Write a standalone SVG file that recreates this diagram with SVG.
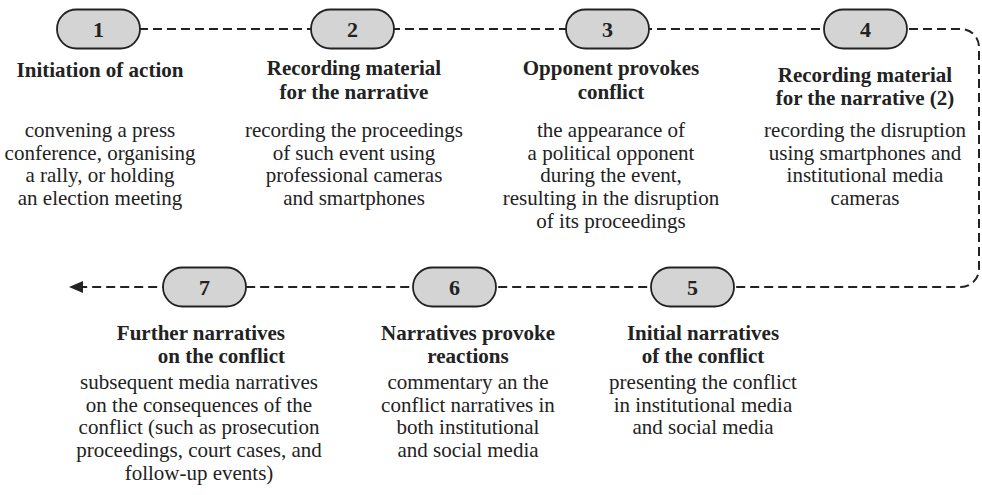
<svg xmlns="http://www.w3.org/2000/svg" width="982" height="495" viewBox="0 0 982 495">
<defs>
<style>
.pill{fill:#d4d4d4;stroke:#222;stroke-width:1.8}
.num{font-family:"Liberation Serif",serif;font-weight:bold;font-size:22px;fill:#222;text-anchor:middle}
.hd{font-family:"Liberation Serif",serif;font-weight:bold;font-size:21px;fill:#222;text-anchor:middle}
.bd{font-family:"Liberation Serif",serif;font-size:21px;fill:#222;text-anchor:middle}
.conn{fill:none;stroke:#222;stroke-width:2;stroke-dasharray:9 5}
</style>
<marker id="arr" viewBox="0 0 14 12" refX="1" refY="6" markerWidth="14" markerHeight="12" markerUnits="userSpaceOnUse" orient="auto">
<path d="M14,6 L0,0 L0,12 Z" fill="#222"/>
</marker>
</defs>
<rect width="982" height="495" fill="#fff"/>
<g id="connectors">
<path class="conn" d="M139 29 H961 A18 18 0 0 1 979 47 V269 A18 18 0 0 1 961 287 H82" marker-end="url(#arr)"/>
</g>
<g id="node1">
<rect class="pill" x="57" y="9.5" width="83" height="39" rx="19.5"/>
<text class="num" x="98.5" y="37">1</text>
<text class="hd" x="100" y="77">Initiation of action</text>
<text class="bd" x="100" y="137">convening a press</text>
<text class="bd" x="100" y="159.7">conference, organising</text>
<text class="bd" x="100" y="182.4">a rally, or holding</text>
<text class="bd" x="100" y="205.1">an election meeting</text>
</g>
<g id="node2">
<rect class="pill" x="311" y="9.5" width="83" height="39" rx="19.5"/>
<text class="num" x="352.5" y="37">2</text>
<text class="hd" x="354" y="75">Recording material</text>
<text class="hd" x="354" y="99">for the narrative</text>
<text class="bd" x="354" y="137">recording the proceedings</text>
<text class="bd" x="354" y="159.7">of such event using</text>
<text class="bd" x="354" y="182.4">professional cameras</text>
<text class="bd" x="354" y="205.1">and smartphones</text>
</g>
<g id="node3">
<rect class="pill" x="566" y="9.5" width="83" height="39" rx="19.5"/>
<text class="num" x="607.5" y="37">3</text>
<text class="hd" x="611" y="75">Opponent provokes</text>
<text class="hd" x="611" y="99">conflict</text>
<text class="bd" x="611" y="137">the appearance of</text>
<text class="bd" x="611" y="159.7">a political opponent</text>
<text class="bd" x="611" y="182.4">during the event,</text>
<text class="bd" x="611" y="205.1">resulting in the disruption</text>
<text class="bd" x="611" y="227.8">of its proceedings</text>
</g>
<g id="node4">
<rect class="pill" x="824" y="9.5" width="83" height="39" rx="19.5"/>
<text class="num" x="865.5" y="37">4</text>
<text class="hd" x="865" y="82">Recording material</text>
<text class="hd" x="865" y="105">for the narrative (2)</text>
<text class="bd" x="865" y="137">recording the disruption</text>
<text class="bd" x="865" y="159.7">using smartphones and</text>
<text class="bd" x="865" y="182.4">institutional media</text>
<text class="bd" x="865" y="205.1">cameras</text>
</g>
<g id="node5">
<rect class="pill" x="651" y="267.5" width="83" height="39" rx="19.5"/>
<text class="num" x="692.5" y="295">5</text>
<text class="hd" x="703" y="340">Initial narratives</text>
<text class="hd" x="703" y="363">of the conflict</text>
<text class="bd" x="703" y="389">presenting the conflict</text>
<text class="bd" x="703" y="411.7">in institutional media</text>
<text class="bd" x="703" y="434.4">and social media</text>
</g>
<g id="node6">
<rect class="pill" x="413" y="267.5" width="83" height="39" rx="19.5"/>
<text class="num" x="454.5" y="295">6</text>
<text class="hd" x="468" y="340">Narratives provoke</text>
<text class="hd" x="468" y="363">reactions</text>
<text class="bd" x="468" y="389">commentary an the</text>
<text class="bd" x="468" y="411.7">conflict narratives in</text>
<text class="bd" x="468" y="434.4">both institutional</text>
<text class="bd" x="468" y="457.1">and social media</text>
</g>
<g id="node7">
<rect class="pill" x="163" y="267.5" width="83" height="39" rx="19.5"/>
<text class="num" x="204.5" y="295">7</text>
<text class="hd" x="285" y="340" style="text-anchor:end">Further narratives</text>
<text class="hd" x="285" y="363" style="text-anchor:end">on the conflict</text>
<text class="bd" x="199" y="389">subsequent media narratives</text>
<text class="bd" x="199" y="411.7">on the consequences of the</text>
<text class="bd" x="199" y="434.4">conflict (such as prosecution</text>
<text class="bd" x="199" y="457.1">proceedings, court cases, and</text>
<text class="bd" x="199" y="479.8">follow-up events)</text>
</g>
</svg>
